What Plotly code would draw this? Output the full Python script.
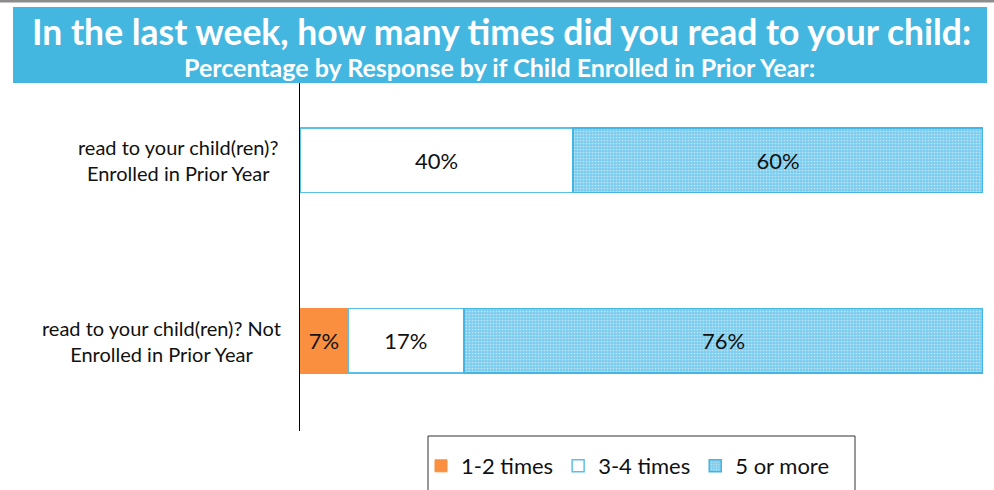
import plotly.graph_objects as go

categories = ["read to your child(ren)?<br>Enrolled in Prior Year",
              "read to your child(ren)? Not<br>Enrolled in Prior Year"]
series_names = ["1-2 times", "3-4 times", "5 or more"]
values_12 = [0, 7]
values_34 = [40, 17]
values_5p = [60, 76]

title_text = "In the last week, how many times did you read to your child:"
subtitle_text = "Percentage by Response by if Child Enrolled in Prior Year:"

FONT = "Lato, 'Open Sans', sans-serif"
W, H = 994, 490
L, R, T, B = 300, 11, 70, 59
PW, PH = W - L - R, H - T - B

def px(x):
    return (x - L) / PW

def py(y):
    return (H - B - y) / PH

ypos = [0, 1]

def labels(vals):
    return [f"{v}%" if v > 0 else "" for v in vals]

tf = dict(size=22, color="#111111", family=FONT)
fig = go.Figure()
fig.add_trace(go.Bar(
    name=series_names[0], y=ypos, x=values_12, orientation="h",
    marker=dict(color="#F98F3F", line=dict(color="#F98F3F", width=1)),
    text=labels(values_12), textposition="inside", insidetextanchor="middle",
    textfont=tf, width=0.36,
))
fig.add_trace(go.Bar(
    name=series_names[1], y=ypos, x=values_34, orientation="h",
    marker=dict(color="#FFFFFF", line=dict(color="#5BC0E8", width=1.5)),
    text=labels(values_34), textposition="inside", insidetextanchor="middle",
    textfont=tf, width=0.36,
))
fig.add_trace(go.Bar(
    name=series_names[2], y=ypos, x=values_5p, orientation="h",
    marker=dict(color="#7ECDEE", line=dict(color="#45B6E2", width=1.5),
                pattern=dict(shape=".", fgcolor="#FFFFFF", bgcolor="#7ECDEE",
                             size=3, solidity=0.25, fillmode="overlay")),
    text=labels(values_5p), textposition="inside", insidetextanchor="middle",
    textfont=tf, width=0.36,
))

fig.update_layout(
    barmode="stack",
    width=W, height=H,
    margin=dict(l=L, r=R, t=T, b=B, autoexpand=False),
    paper_bgcolor="white", plot_bgcolor="white",
    font=dict(family=FONT, size=20, color="#111111"),
    uniformtext=dict(minsize=22, mode="show"),
    xaxis=dict(range=[0, 100], visible=False, fixedrange=True),
    yaxis=dict(range=[1.5, -0.5], showticklabels=False, showgrid=False,
               zeroline=False, showline=True, linecolor="#000000", linewidth=1.5,
               ticks="", fixedrange=True),
    showlegend=True,
    legend=dict(orientation="h", x=px(421), xanchor="left", y=py(445), yanchor="top",
                font=dict(size=22, family=FONT, color="#111111"),
                bgcolor="rgba(0,0,0,0)", borderwidth=0, traceorder="normal",
                itemwidth=30),
    shapes=[
        dict(type="rect", xref="paper", yref="paper", layer="above",
             x0=px(13), x1=px(987), y0=py(83), y1=py(7),
             fillcolor="#44B7E1", line=dict(width=0)),
        dict(type="rect", xref="paper", yref="paper", layer="above",
             x0=px(0), x1=px(994), y0=py(2.5), y1=py(0),
             fillcolor="#8C8C8C", line=dict(width=0)),
        dict(type="rect", xref="paper", yref="paper", layer="above",
             x0=px(428), x1=px(855), y0=py(496), y1=py(436),
             fillcolor="rgba(0,0,0,0)", line=dict(color="#333333", width=1)),
    ],
    annotations=[
        dict(text=f"<b>{title_text}</b>", xref="paper", yref="paper",
             x=px(501), y=py(32), xanchor="center", yanchor="middle",
             showarrow=False, font=dict(size=35.5, color="white", family=FONT)),
        dict(text=f"<b>{subtitle_text}</b>", xref="paper", yref="paper",
             x=px(499), y=py(67), xanchor="center", yanchor="middle",
             showarrow=False, font=dict(size=25, color="white", family=FONT)),
        dict(text=categories[0], xref="paper", yref="y", x=px(178), y=0,
             xanchor="center", yanchor="middle", align="center", showarrow=False,
             font=dict(size=20, family=FONT, color="#111111")),
        dict(text=categories[1], xref="paper", yref="y", x=px(161), y=1,
             xanchor="center", yanchor="middle", align="center", showarrow=False,
             font=dict(size=20, family=FONT, color="#111111")),
    ],
)

fig.write_html(
    "out.html",
    config={"displayModeBar": False, "staticPlot": True},
    post_script="document.body.style.margin='0px';document.body.style.overflow='hidden';",
)
